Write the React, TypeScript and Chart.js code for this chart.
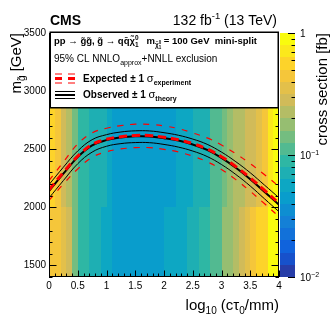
import React, { useEffect, useRef } from 'react';
import { Chart, registerables } from 'chart.js';

Chart.register(...registerables);

// ---------------- data ----------------
const logCtauEdges = [0, 0.1, 0.2, 0.3, 0.4, 0.5, 0.6, 0.7, 0.8, 0.9, 1.0, 1.1, 1.2, 1.3, 1.4, 1.5, 1.6, 1.7, 1.8, 1.9, 2.0,
  2.1, 2.2, 2.3, 2.4, 2.5, 2.6, 2.7, 2.8, 2.9, 3.0, 3.1, 3.2, 3.3, 3.4, 3.5, 3.6, 3.7, 3.8, 3.9, 4.0];
const massEdges = [1400, 1500, 1600, 1700, 1800, 1900, 2000, 2100, 2200, 2300, 2400, 2500, 2600, 2700, 2800, 2900,
  3000, 3100, 3200, 3300, 3400, 3500];
const massBandSplit = 2000;
// cross section [fb] per log10(ctau) column, for gluino masses >= 2000 GeV
const xsecHighMass = [0.57, 0.46, 0.29, 0.22, 0.14, 0.088, 0.085, 0.073, 0.070, 0.066, 0.057, 0.047, 0.045, 0.044, 0.043,
  0.043, 0.044, 0.045, 0.046, 0.047, 0.048, 0.049, 0.053, 0.056, 0.059, 0.066, 0.070, 0.074, 0.108, 0.115, 0.14, 0.17,
  0.21, 0.23, 0.27, 0.30, 0.36, 0.46, 0.70, 0.90];
// cross section [fb] per column, for gluino masses < 2000 GeV
const xsecLowMass = [0.47, 0.44, 0.35, 0.28, 0.14, 0.085, 0.088, 0.070, 0.074, 0.058, 0.055, 0.046, 0.045, 0.044, 0.043,
  0.043, 0.044, 0.045, 0.047, 0.049, 0.052, 0.054, 0.056, 0.059, 0.066, 0.072, 0.084, 0.092, 0.11, 0.12, 0.17, 0.19,
  0.23, 0.29, 0.35, 0.44, 0.55, 0.60, 0.85, 0.93];

const contourLogCtau = [0, 0.25, 0.5, 0.75, 1.0, 1.25, 1.5, 1.75, 2.0, 2.25, 2.5, 2.75, 3.0, 3.25, 3.5, 3.75, 4.0];
const expectedLimit = [2150, 2300, 2440, 2540, 2585, 2608, 2618, 2617, 2603, 2582, 2548, 2502, 2435, 2350, 2253, 2145, 2035];
const expectedUp = [2230, 2390, 2545, 2640, 2680, 2703, 2715, 2713, 2700, 2677, 2640, 2597, 2536, 2460, 2375, 2280, 2180];
const expectedDown = [2060, 2200, 2330, 2430, 2478, 2502, 2513, 2513, 2498, 2476, 2440, 2392, 2325, 2238, 2138, 2030, 1920];
const observedLimit = [2140, 2290, 2432, 2532, 2578, 2601, 2611, 2610, 2595, 2574, 2540, 2494, 2426, 2340, 2242, 2132, 2022];
const observedUp = [2195, 2345, 2485, 2582, 2625, 2648, 2658, 2657, 2642, 2620, 2587, 2542, 2475, 2392, 2297, 2190, 2082];
const observedDown = [2080, 2230, 2375, 2475, 2525, 2548, 2557, 2556, 2541, 2518, 2484, 2437, 2368, 2282, 2183, 2072, 1962];

const xTickValues = [0, 0.5, 1, 1.5, 2, 2.5, 3, 3.5, 4];
const yTickValues = [1500, 2000, 2500, 3000, 3500];
const zMin = 0.01;
const zMax = 1;
const nContours = 20;

// ---------------- style helpers ----------------
const FONT = '"Liberation Sans", Arial, Helvetica, sans-serif';

const birdStops = [0, 0.125, 0.25, 0.375, 0.5, 0.625, 0.75, 0.875, 1];
const birdR = [0.2082, 0.0592, 0.078, 0.0232, 0.1802, 0.5301, 0.8186, 0.9956, 0.9764];
const birdG = [0.1664, 0.3599, 0.5041, 0.6419, 0.7178, 0.7492, 0.7328, 0.7862, 0.9832];
const birdB = [0.5293, 0.8684, 0.8385, 0.7914, 0.6425, 0.4662, 0.3499, 0.1968, 0.0539];

function bird(f: number): string {
  f = Math.max(0, Math.min(1, f));
  let k = 0;
  while (k < birdStops.length - 2 && f > birdStops[k + 1]) k++;
  const t = (f - birdStops[k]) / (birdStops[k + 1] - birdStops[k]);
  const c = (a: number[]) => Math.round(255 * (a[k] + t * (a[k + 1] - a[k])));
  return `rgb(${c(birdR)},${c(birdG)},${c(birdB)})`;
}
function bandColor(b: number): string {
  const idx = Math.floor((b + 0.99) * 255 / nContours);
  return bird(Math.min(idx, 254) / 254);
}
function zBand(v: number): number {
  const f = (Math.log10(v) - Math.log10(zMin)) / (Math.log10(zMax) - Math.log10(zMin));
  return Math.max(0, Math.min(nContours - 1, Math.floor(f * nContours)));
}

type Run = { text?: string; size: number; bold?: boolean; dy?: number; stack?: [string, string]; up?: number; down?: number };

function setFont(ctx: CanvasRenderingContext2D, size: number, bold?: boolean) {
  ctx.font = `${bold ? 'bold ' : ''}${size}px ${FONT}`;
}
function runWidth(ctx: CanvasRenderingContext2D, r: Run) {
  setFont(ctx, r.size, r.bold);
  if (r.stack) return Math.max(ctx.measureText(r.stack[0]).width, ctx.measureText(r.stack[1]).width);
  return ctx.measureText(r.text || '').width;
}
function drawRuns(ctx: CanvasRenderingContext2D, runs: Run[], x: number, y: number, align: 'left' | 'right') {
  const ws = runs.map((r) => runWidth(ctx, r));
  const total = ws.reduce((a, b) => a + b, 0);
  let cx = align === 'right' ? x - total : x;
  ctx.textAlign = 'left';
  ctx.textBaseline = 'alphabetic';
  runs.forEach((r, i) => {
    setFont(ctx, r.size, r.bold);
    if (r.stack) {
      ctx.fillText(r.stack[0], cx, y + (r.up ?? -4));
      ctx.fillText(r.stack[1], cx, y + (r.down ?? 3));
    } else {
      ctx.fillText(r.text || '', cx, y + (r.dy || 0));
    }
    cx += ws[i];
  });
}

function pts(ys: number[]) {
  return contourLogCtau.map((x, i) => ({ x, y: ys[i] }));
}

// ---------------- plugin: heat map + ROOT-like decorations ----------------
const rootPlugin = {
  id: 'rootStyle',
  beforeDatasetsDraw(chart: any) {
    const { ctx, chartArea: a, scales } = chart;
    const xs = scales.x;
    const ys = scales.y;
    ctx.save();
    ctx.beginPath();
    ctx.rect(a.left, a.top, a.right - a.left, a.bottom - a.top);
    ctx.clip();
    for (let j = 0; j < massEdges.length - 1; j++) {
      const row = massEdges[j] >= massBandSplit ? xsecHighMass : xsecLowMass;
      const yTop = Math.round(ys.getPixelForValue(massEdges[j + 1]));
      const yBot = Math.round(ys.getPixelForValue(massEdges[j]));
      for (let i = 0; i < logCtauEdges.length - 1; i++) {
        const x0 = Math.round(xs.getPixelForValue(logCtauEdges[i]));
        const x1 = Math.round(xs.getPixelForValue(logCtauEdges[i + 1]));
        ctx.fillStyle = bandColor(zBand(row[i]));
        ctx.fillRect(x0, yTop, x1 - x0, yBot - yTop);
      }
    }
    ctx.restore();
  },
  afterDatasetsDraw(chart: any) {
    const { ctx, chartArea: a, scales } = chart;
    const xs = scales.x;
    const ys = scales.y;
    ctx.save();
    ctx.fillStyle = '#000';
    ctx.strokeStyle = '#000';

    // frame
    ctx.lineWidth = 1;
    ctx.strokeRect(a.left + 0.5, a.top + 0.5, a.right - a.left - 1, a.bottom - a.top - 1);

    // y ticks (left and right, inside)
    ctx.beginPath();
    for (let m = 1400; m <= 3500; m += 100) {
      const py = Math.round(ys.getPixelForValue(m)) + 0.5;
      const len = m % 500 === 0 ? 7.5 : 3.5;
      ctx.moveTo(a.left, py); ctx.lineTo(a.left + len, py);
      ctx.moveTo(a.right, py); ctx.lineTo(a.right - len, py);
    }
    // x ticks (bottom, inside)
    for (let k = 0; k <= 40; k++) {
      const v = k / 10;
      const px = Math.round(xs.getPixelForValue(v)) + 0.5;
      const len = k % 5 === 0 ? 6.5 : 3.5;
      ctx.moveTo(px, a.bottom); ctx.lineTo(px, a.bottom - len);
    }
    ctx.stroke();

    // colour bar
    const cbL = a.right + 1;
    const cbW = 15;
    const h = a.bottom - a.top;
    for (let b = 0; b < nContours; b++) {
      const y0 = Math.round(a.bottom - ((b + 1) / nContours) * h);
      const y1 = Math.round(a.bottom - (b / nContours) * h);
      ctx.fillStyle = bandColor(b);
      ctx.fillRect(cbL, y0, cbW, y1 - y0);
    }
    ctx.beginPath();
    const cbR = cbL + cbW;
    const lz0 = Math.log10(zMin);
    const lz1 = Math.log10(zMax);
    for (let dec = zMin; dec < zMax * 1.0001; dec *= 10) {
      for (let m = 1; m <= 9; m++) {
        const v = dec * m;
        if (v > zMax * 1.0001) break;
        const py = Math.round(a.bottom - ((Math.log10(v) - lz0) / (lz1 - lz0)) * h) + 0.5;
        const len = m === 1 ? 7 : 3.5;
        ctx.moveTo(cbR, py); ctx.lineTo(cbR - len, py);
      }
    }
    ctx.strokeStyle = '#000';
    ctx.stroke();

    ctx.fillStyle = '#000';
    drawRuns(ctx, [{ text: '1', size: 10 }], cbR + 5, a.top + 4, 'left');
    drawRuns(ctx, [{ text: '10', size: 10 }, { text: '\u22121', size: 7, dy: -4 }], cbR + 5, a.top + h / 2 + 4, 'left');
    drawRuns(ctx, [{ text: '10', size: 10 }, { text: '\u22122', size: 7, dy: -4 }], cbR + 5, a.bottom + 4, 'left');

    // legend box
    ctx.fillStyle = '#fff';
    ctx.fillRect(50, 32, 228, 76);
    ctx.lineWidth = 1.5;
    ctx.strokeStyle = '#000';
    ctx.strokeRect(50.25, 32.25, 228, 75.5);

    ctx.fillStyle = '#000';
    const L = 9.5;
    drawRuns(ctx, [
      { text: 'pp \u2192 g\u0303g\u0303, g\u0303 \u2192 qq\u0304\u03C7\u0303', size: L, bold: true },
      { stack: ['0', '1'], size: 6.5, bold: true, up: -4, down: 3 },
      { text: '   m', size: L, bold: true },
      { text: '\u03C7\u0303', size: 6.5, bold: true, dy: 3 },
      { stack: ['0', '1'], size: 4.5, bold: true, up: 0, down: 5 },
      { text: ' = 100 GeV  mini-split', size: L, bold: true },
    ], 54, 44, 'left');
    drawRuns(ctx, [
      { text: '95% CL NNLO', size: 10 },
      { text: 'approx', size: 7, dy: 2.5 },
      { text: '+NNLL exclusion', size: 10 },
    ], 54, 62, 'left');

    // legend symbols
    ctx.strokeStyle = '#ff0000';
    ctx.setLineDash([7, 6]);
    ctx.lineWidth = 1.2;
    ctx.beginPath(); ctx.moveTo(55, 74); ctx.lineTo(75, 74); ctx.stroke();
    ctx.lineWidth = 1.2;
    ctx.beginPath(); ctx.moveTo(55, 83); ctx.lineTo(75, 83); ctx.stroke();
    ctx.lineWidth = 3;
    ctx.beginPath(); ctx.moveTo(55, 78.5); ctx.lineTo(75, 78.5); ctx.stroke();
    ctx.setLineDash([]);
    ctx.strokeStyle = '#000';
    ctx.lineWidth = 1;
    ctx.beginPath(); ctx.moveTo(55, 91.5); ctx.lineTo(75, 91.5); ctx.moveTo(55, 98.5); ctx.lineTo(75, 98.5); ctx.stroke();
    ctx.lineWidth = 2;
    ctx.beginPath(); ctx.moveTo(55, 95); ctx.lineTo(75, 95); ctx.stroke();

    ctx.fillStyle = '#000';
    drawRuns(ctx, [
      { text: 'Expected \u00B1 1 ', size: 10, bold: true },
      { text: '\u03C3', size: 11 },
      { text: 'experiment', size: 7, bold: true, dy: 3 },
    ], 83, 81.5, 'left');
    drawRuns(ctx, [
      { text: 'Observed \u00B1 1 ', size: 10, bold: true },
      { text: '\u03C3', size: 11 },
      { text: 'theory', size: 7, bold: true, dy: 3 },
    ], 83, 97.5, 'left');

    // header texts
    drawRuns(ctx, [{ text: 'CMS', size: 14, bold: true }], 50, 25, 'left');
    drawRuns(ctx, [
      { text: '132 fb', size: 14 },
      { text: '-1', size: 9.5, dy: -6 },
      { text: ' (13 TeV)', size: 14 },
    ], 277, 25, 'right');

    // x axis title
    drawRuns(ctx, [
      { text: 'log', size: 15 },
      { text: '10', size: 10, dy: 4 },
      { text: ' (c\u03C4', size: 15 },
      { text: '0', size: 10, dy: 4 },
      { text: '/mm)', size: 15 },
    ], a.right, 310, 'right');

    // y axis title (rotated)
    ctx.save();
    ctx.translate(21, a.top);
    ctx.rotate(-Math.PI / 2);
    drawRuns(ctx, [
      { text: 'm', size: 15 },
      { text: 'g\u0303', size: 10, dy: 4 },
      { text: ' [GeV]', size: 15 },
    ], 0, 0, 'right');
    ctx.restore();

    // colour bar title (rotated)
    ctx.save();
    ctx.translate(327, a.top);
    ctx.rotate(-Math.PI / 2);
    drawRuns(ctx, [{ text: 'cross section [fb]', size: 15 }], 0, 0, 'right');
    ctx.restore();

    ctx.restore();
  },
};

export default function App() {
  const ref = useRef<HTMLCanvasElement>(null);
  useEffect(() => {
    if (!ref.current) return;
    const lineBase = { pointRadius: 0, showLine: true, tension: 0.4, fill: false };
    const chart = new Chart(ref.current, {
      type: 'scatter',
      data: {
        datasets: [
          { ...lineBase, label: 'Expected', data: pts(expectedLimit), borderColor: '#ff0000', borderWidth: 3, borderDash: [8, 5], order: 0 },
          { ...lineBase, label: 'Expected +1 sigma', data: pts(expectedUp), borderColor: '#ff0000', borderWidth: 1.2, borderDash: [6, 7], order: 1 },
          { ...lineBase, label: 'Expected -1 sigma', data: pts(expectedDown), borderColor: '#ff0000', borderWidth: 1.2, borderDash: [6, 7], order: 1 },
          { ...lineBase, label: 'Observed', data: pts(observedLimit), borderColor: '#000000', borderWidth: 2, order: 2 },
          { ...lineBase, label: 'Observed +1 sigma', data: pts(observedUp), borderColor: '#000000', borderWidth: 1, order: 3 },
          { ...lineBase, label: 'Observed -1 sigma', data: pts(observedDown), borderColor: '#000000', borderWidth: 1, order: 3 },
        ] as any,
      },
      options: {
        responsive: false,
        devicePixelRatio: 1,
        animation: false,
        events: [],
        layout: { padding: { left: 0, top: 33, right: 53, bottom: 0 } },
        plugins: { legend: { display: false }, tooltip: { enabled: false } },
        scales: {
          x: {
            type: 'linear',
            min: 0,
            max: 4,
            grid: { display: false, drawTicks: false },
            border: { display: false },
            afterFit: (s: any) => { s.height = 46; },
            afterBuildTicks: (s: any) => { s.ticks = xTickValues.map((v) => ({ value: v })); },
            ticks: { color: '#000', padding: 3, maxRotation: 0, autoSkip: false, font: { family: FONT, size: 10 }, callback: (v: any) => String(v) },
          },
          y: {
            type: 'linear',
            min: 1400,
            max: 3500,
            grid: { display: false, drawTicks: false },
            border: { display: false },
            afterFit: (s: any) => { s.width = 49; },
            afterBuildTicks: (s: any) => { s.ticks = yTickValues.map((v) => ({ value: v })); },
            ticks: { color: '#000', padding: 3, autoSkip: false, font: { family: FONT, size: 10 }, callback: (v: any) => String(v) },
          },
        },
      } as any,
      plugins: [rootPlugin as any],
    });
    return () => chart.destroy();
  }, []);
  return (
    <div style={{ position: 'absolute', left: 0, top: 0, width: 332, height: 323, background: '#fff' }}>
      <canvas ref={ref} width={332} height={323} style={{ display: 'block', width: 332, height: 323 }} />
    </div>
  );
}
